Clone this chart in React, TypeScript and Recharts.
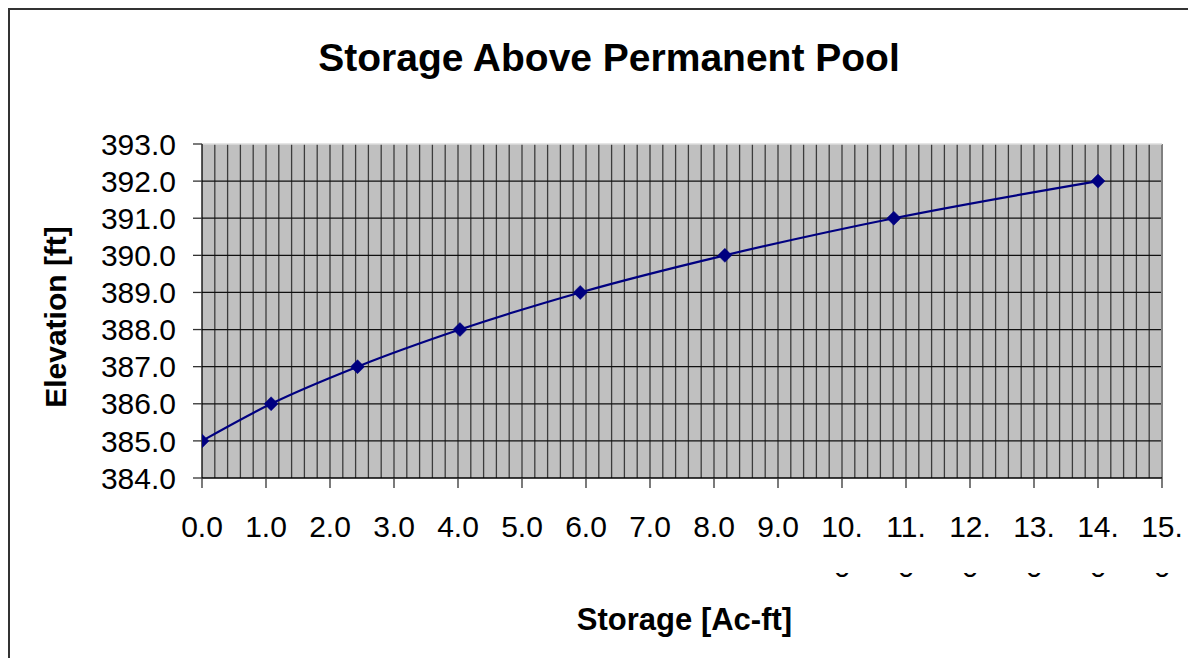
import React from 'react';
import { LineChart, Line, XAxis, YAxis, CartesianGrid, ReferenceLine } from 'recharts';

const FONT = '"Liberation Sans", Arial, sans-serif';

// Data
const storage = [0, 1.08, 2.43, 4.03, 5.91, 8.17, 10.81, 14.0];
const elevation = [385, 386, 387, 388, 389, 390, 391, 392];

const xTicks = [0, 1, 2, 3, 4, 5, 6, 7, 8, 9, 10, 11, 12, 13, 14, 15];
const xTickLabels = ['0.0', '1.0', '2.0', '3.0', '4.0', '5.0', '6.0', '7.0', '8.0', '9.0', '10.0', '11.0', '12.0', '13.0', '14.0', '15.0'];
const yTicks = [384, 385, 386, 387, 388, 389, 390, 391, 392, 393];
const yTickLabels = ['384.0', '385.0', '386.0', '387.0', '388.0', '389.0', '390.0', '391.0', '392.0', '393.0'];
const majorGridY = [385, 386, 387, 388, 389, 390, 391, 392];
const minorGridX = Array.from({ length: 74 }, (_, i) => Math.round((i + 1) * 2) / 10);

const title = 'Storage Above Permanent Pool';
const xTitle = 'Storage [Ac-ft]';
const yTitle = 'Elevation [ft]';

const data = storage.map((s, i) => ({ storage: s, elevation: elevation[i] }));

const applyScale = (axis: any, v: number, lo: number, hi: number, d0: number, d1: number) => {
  const sc = axis && axis.scale;
  if (typeof sc === 'function') return sc(v);
  if (sc && typeof sc.map === 'function') return sc.map(v);
  return lo + ((v - d0) / (d1 - d0)) * (hi - lo);
};

const XTick = (props: any) => {
  const { x, y, index, payload } = props;
  const label: string = xTickLabels[index] ?? Number(payload.value).toFixed(1);
  const first = label.length > 3 ? label.slice(0, 3) : label;
  const rest = label.length > 3 ? label.slice(3) : '';
  const id = `xclip-${index}`;
  return (
    <g>
      <text x={x} y={y + 49} textAnchor="middle" fill="#000" fontSize={30} fontFamily={FONT}>
        {first}
      </text>
      {rest ? (
        <g>
          <defs>
            <clipPath id={id}>
              <rect x={x - 25} y={y + 85} width={50} height={14} />
            </clipPath>
          </defs>
          <text x={x} y={y + 89} textAnchor="middle" fill="#000" fontSize={30} fontFamily={FONT} clipPath={`url(#${id})`}>
            {rest}
          </text>
        </g>
      ) : null}
    </g>
  );
};

const Diamond = (props: any) => {
  const { cx, cy, index } = props;
  if (cx == null || cy == null) return <g key={`d-${index}`} />;
  const r = 7;
  return (
    <path
      key={`d-${index}`}
      d={`M${cx},${cy - r}L${cx + r},${cy}L${cx},${cy + r}L${cx - r},${cy}Z`}
      fill="#000080"
      stroke="#000080"
      strokeWidth={0.5}
    />
  );
};

export default function App() {
  return (
    <div
      style={{
        position: 'relative',
        width: 1180,
        height: 650,
        boxSizing: 'border-box',
        borderLeft: '2px solid #333',
        borderTop: '2px solid #333',
        fontFamily: FONT,
        background: '#fff',
      }}
    >
      <svg width={1178} height={648} style={{ position: 'absolute', left: 0, top: 0 }}>
        <text x={599} y={61} textAnchor="middle" fontSize={39} fontWeight="bold" fontFamily={FONT} fill="#000">
          {title}
        </text>
        <text x={674.5} y={620} textAnchor="middle" fontSize={31} fontWeight="bold" fontFamily={FONT} fill="#000">
          {xTitle}
        </text>
        <text
          transform="translate(56,307) rotate(-90)"
          textAnchor="middle"
          fontSize={30}
          fontWeight="bold"
          fontFamily={FONT}
          fill="#000"
        >
          {yTitle}
        </text>
      </svg>
      <div style={{ position: 'absolute', left: 0, top: 0 }}>
        <LineChart width={1178} height={648} data={data} margin={{ top: 134, right: 26, bottom: 120, left: 92 }}>
          <CartesianGrid
            fill="#C0C0C0"
            horizontal={false}
            stroke="#3c3c3c"
            strokeWidth={1.3}
            verticalCoordinatesGenerator={({ xAxis, offset }: any) =>
              minorGridX.map((v) => applyScale(xAxis, v, offset.left, offset.left + offset.width, 0, 15))
            }
          />
          <CartesianGrid
            vertical={false}
            stroke="#111"
            strokeWidth={1.3}
            horizontalCoordinatesGenerator={({ yAxis, offset }: any) =>
              majorGridY.map((v) => applyScale(yAxis, v, offset.top + offset.height, offset.top, 384, 393))
            }
          />
          <ReferenceLine x={15} stroke="#808080" strokeWidth={2} />
          <ReferenceLine y={393} stroke="#dcdcdc" strokeWidth={1.5} />
          <XAxis
            type="number"
            dataKey="storage"
            domain={[0, 15]}
            ticks={xTicks}
            interval={0}
            height={60}
            tickSize={10}
            tickMargin={0}
            axisLine={{ stroke: '#000', strokeWidth: 1.3 }}
            tickLine={{ stroke: '#333', strokeWidth: 1.3 }}
            tick={(p: any) => <XTick {...p} />}
            allowDataOverflow
          />
          <YAxis
            type="number"
            domain={[384, 393]}
            ticks={yTicks}
            interval={0}
            width={100}
            tickSize={9}
            tickMargin={17}
            axisLine={{ stroke: '#000', strokeWidth: 1.3 }}
            tickLine={{ stroke: '#333', strokeWidth: 1.3 }}
            tick={{ fill: '#000', fontSize: 30, fontFamily: FONT }}
            tickFormatter={(v: number) => yTickLabels[yTicks.indexOf(v)] ?? Number(v).toFixed(1)}
            allowDataOverflow
          />
          <Line
            type="monotone"
            dataKey="elevation"
            stroke="#000080"
            strokeWidth={2.2}
            dot={(p: any) => <Diamond {...p} key={`dot-${p.index}`} />}
            activeDot={false}
            isAnimationActive={false}
          />
        </LineChart>
      </div>
    </div>
  );
}
